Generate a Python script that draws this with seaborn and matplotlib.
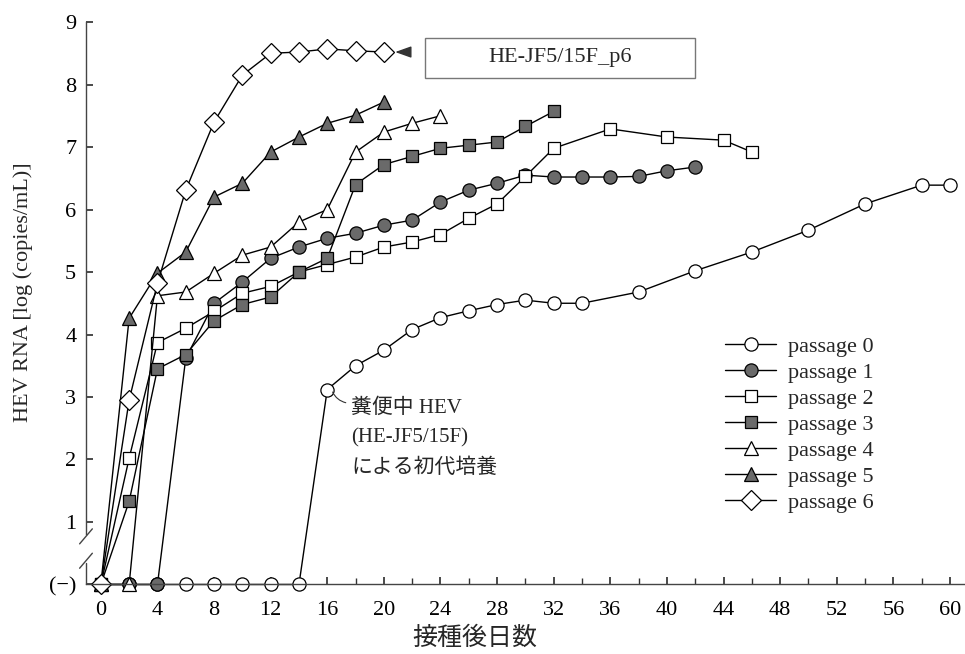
import matplotlib
matplotlib.use("Agg")
import matplotlib.pyplot as plt
import seaborn as sns
from matplotlib.patches import Rectangle
from matplotlib.ticker import MultipleLocator

# days after inoculation and HEV RNA (log copies/mL)
days_p0 = [0, 2, 4, 6, 8, 10, 12, 14, 16, 18, 20, 22, 24, 26, 28, 30, 32, 34, 38, 42, 46, 50, 54, 58, 60]
rna_p0 = [0, 0, 0, 0, 0, 0, 0, 0, 3.12, 3.5, 3.75, 4.08, 4.27, 4.38, 4.48, 4.55, 4.5, 4.5,
          4.68, 5.02, 5.32, 5.67, 6.09, 6.39, 6.39]

days_p1 = [0, 2, 4, 6, 8, 10, 12, 14, 16, 18, 20, 22, 24, 26, 28, 30, 32, 34, 36, 38, 40, 42]
rna_p1 = [0, 0, 0, 3.62, 4.5, 4.84, 5.22, 5.4, 5.54, 5.62, 5.75, 5.83, 6.12, 6.31, 6.42, 6.55,
          6.52, 6.52, 6.52, 6.53, 6.62, 6.68]

days_p2 = [0, 2, 4, 6, 8, 10, 12, 14, 16, 18, 20, 22, 24, 26, 28, 30, 32, 36, 40, 44, 46]
rna_p2 = [0, 2.02, 3.87, 4.1, 4.37, 4.66, 4.77, 5.0, 5.12, 5.24, 5.4, 5.48, 5.6, 5.86, 6.09,
          6.53, 6.98, 7.29, 7.16, 7.11, 6.92]

days_p3 = [0, 2, 4, 6, 8, 10, 12, 14, 16, 18, 20, 22, 24, 26, 28, 30, 32]
rna_p3 = [0, 1.33, 3.45, 3.68, 4.22, 4.48, 4.6, 5.0, 5.22, 6.4, 6.72, 6.85, 6.98, 7.03, 7.08,
          7.33, 7.57]

days_p4 = [0, 2, 4, 6, 8, 10, 12, 14, 16, 18, 20, 22, 24]
rna_p4 = [0, 0, 4.62, 4.68, 4.98, 5.27, 5.4, 5.8, 6.0, 6.92, 7.24, 7.38, 7.5]

days_p5 = [0, 2, 4, 6, 8, 10, 12, 14, 16, 18, 20]
rna_p5 = [0, 4.26, 4.98, 5.32, 6.2, 6.42, 6.92, 7.16, 7.38, 7.51, 7.72]

days_p6 = [0, 2, 4, 6, 8, 10, 12, 14, 16, 18, 20]
rna_p6 = [0, 2.95, 4.82, 6.31, 7.4, 8.15, 8.5, 8.52, 8.57, 8.54, 8.52]

labels = ["passage 0", "passage 1", "passage 2", "passage 3",
          "passage 4", "passage 5", "passage 6"]
y_ticklabels = ["(\u2212)", "1", "2", "3", "4", "5", "6", "7", "8", "9"]

sns.set_theme(style="ticks")
plt.rcParams["font.family"] = ["Liberation Serif", "Noto Sans CJK JP"]

fig = plt.figure(figsize=(9.65, 6.54), dpi=100)
ax = fig.add_axes([0.0891, 0.1063, 0.910, 0.860])

gray = "#6a6a6a"
series = [
    (days_p0, rna_p0, "o", "white", 9.5),
    (days_p1, rna_p1, "o", gray, 9.5),
    (days_p2, rna_p2, "s", "white", 9),
    (days_p3, rna_p3, "s", gray, 9),
    (days_p4, rna_p4, "^", "white", 10.5),
    (days_p5, rna_p5, "^", gray, 10.5),
    (days_p6, rna_p6, "D", "white", 10),
]
for (d, v, m, fc, ms), lab in zip(series, labels):
    sns.lineplot(x=d, y=v, ax=ax, color="black", linewidth=1.0, marker=m,
                 markersize=ms, markerfacecolor=fc, markeredgecolor="black",
                 markeredgewidth=0.9, label=lab, clip_on=False)

ax.set_xlim(-1.05, 61)
ax.set_ylim(0, 9)
ax.xaxis.set_major_locator(MultipleLocator(4))
ax.xaxis.set_minor_locator(MultipleLocator(2))
ax.set_yticks(range(10))
ax.set_yticklabels(y_ticklabels)
ax.tick_params(axis="both", which="both", direction="in", colors="#333333",
               labelcolor="black", labelsize=16)
ax.tick_params(axis="x", which="major", length=5, pad=12)
ax.tick_params(axis="x", which="minor", length=4)
ax.tick_params(axis="y", length=5, pad=7)

sns.despine(ax=ax)
for s in ["left", "bottom"]:
    ax.spines[s].set_color("#444444")
    ax.spines[s].set_linewidth(1.0)
ax.spines["left"].set_bounds(0.8, 9)

# axis break on the y axis
ax.plot([-1.05, -1.05], [0, 0.35], color="#444444", lw=1.0, clip_on=False)
for yb in [0.38, 0.77]:
    ax.plot([-1.5, -0.6], [yb - 0.12, yb + 0.12], color="#444444", lw=1.0, clip_on=False)

ax.set_xlabel("接種後日数", fontsize=18)
ax.xaxis.set_label_coords(0.443, -0.074)
ax.set_ylabel("HEV RNA [log (copies/mL)]", fontsize=16)
ax.yaxis.set_label_coords(-0.06, 0.52)

# labelled box for passage 6
ax.add_patch(Rectangle((22.9, 8.11), 19.1, 0.64, facecolor="white",
                       edgecolor="#777777", lw=1.0))
ax.text(32.45, 8.43, "HE-JF5/15F_p6", ha="center", va="center", fontsize=16)
ax.annotate("", xy=(20.6, 8.52), xytext=(21.9, 8.52),
            arrowprops=dict(arrowstyle="-|>,head_length=0.7,head_width=0.25",
                            color="#333333", lw=1.0, mutation_scale=14))

ax.text(17.7, 2.98, "糞便中 HEV\n(HE-JF5/15F)\nによる初代培養", ha="left", va="top",
        fontsize=15, linespacing=1.75)
ax.annotate("", xy=(16.3, 3.12), xytext=(17.5, 2.9),
            arrowprops=dict(arrowstyle="-", color="#333333", lw=0.8,
                            connectionstyle="arc3,rad=-0.3"))

ax.legend(loc="upper left", bbox_to_anchor=(725 / 965, 1 - 336 / 654),
          bbox_transform=fig.transFigure, frameon=False, fontsize=16,
          handlelength=2.3, handletextpad=0.55, labelspacing=0.25,
          borderpad=0, borderaxespad=0)

fig.savefig("out.png", dpi=100)
